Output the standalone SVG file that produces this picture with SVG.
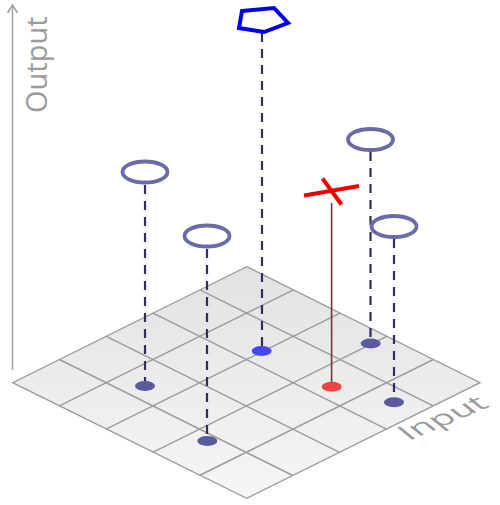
<svg xmlns="http://www.w3.org/2000/svg" width="500" height="505" viewBox="0 0 500 505">
  <defs>
    <linearGradient id="floor" x1="0" y1="266" x2="0" y2="499" gradientUnits="userSpaceOnUse">
      <stop offset="0" stop-color="#e2e2e2"/>
      <stop offset="1" stop-color="#f6f6f6"/>
    </linearGradient>
  </defs>
  <style>
    .grid { stroke: #9c9c9c; stroke-width: 1.4; fill: none; }
    .axis { stroke: #a0a0a0; stroke-width: 1.5; fill: none; }
    .label { font-family: "Open Sans", "DejaVu Sans", sans-serif; fill: #9b9b9b; }
    .drop { stroke: #2f2f5f; stroke-width: 2.2; stroke-dasharray: 9 7; fill: none; }
    .ring { stroke: #6a6aaa; stroke-width: 3.8; fill: none; }
    .dot { fill: #5a5a9e; }
  </style>

  <!-- input plane -->
  <g id="plane">
    <polygon points="246.7,266.7 480,382.7 246.7,498.3 12.7,382.7" fill="url(#floor)" stroke="#9c9c9c" stroke-width="1.4"/>
    <g class="grid">
      <line x1="199.9" y1="289.9" x2="433.2" y2="405.9"/>
      <line x1="153.1" y1="313.1" x2="386.4" y2="429.1"/>
      <line x1="106.3" y1="336.3" x2="339.6" y2="452.3"/>
      <line x1="59.5" y1="359.5" x2="292.8" y2="475.5"/>
      <line x1="293.4" y1="289.9" x2="59.4" y2="405.9"/>
      <line x1="340" y1="313.1" x2="106" y2="429.1"/>
      <line x1="386.7" y1="336.3" x2="152.7" y2="452.3"/>
      <line x1="433.4" y1="359.5" x2="199.4" y2="475.5"/>
    </g>
  </g>

  <!-- axes -->
  <g id="axis-output">
    <line class="axis" x1="12.5" y1="370" x2="12.5" y2="5.5"/>
    <path class="axis" d="M7.5,13 L12.5,5 L17.5,13"/>
    <text class="label" font-size="29" transform="translate(47,113) rotate(-90)">Output</text>
  </g>
  <g id="axis-input">
    <text class="label" font-size="30" transform="matrix(1.1,-0.47,0.7,0.56,409,441)">Input</text>
  </g>

  <!-- connectors: sample heights -->
  <g id="connectors">
    <line class="drop" x1="145" y1="185" x2="145" y2="386"/>
    <line class="drop" x1="207" y1="249" x2="207" y2="441"/>
    <line class="drop" x1="262" y1="33" x2="262" y2="351"/>
    <line class="drop" x1="370.5" y1="152" x2="370.5" y2="343.5"/>
    <line class="drop" x1="394" y1="239" x2="394" y2="402"/>
    <line x1="331.6" y1="203" x2="331.6" y2="387" stroke="#6b3a3a" stroke-width="1.6"/>
  </g>

  <!-- sample points on the plane -->
  <g id="p1"><ellipse class="dot" cx="145" cy="386" rx="10" ry="5"/></g>
  <g id="p2"><ellipse class="dot" cx="207.3" cy="441" rx="10" ry="5"/></g>
  <g id="p3"><ellipse cx="261.7" cy="351" rx="10" ry="5" fill="#4646f5"/></g>
  <g id="p4"><ellipse class="dot" cx="370.7" cy="343.5" rx="10" ry="5"/></g>
  <g id="p5"><ellipse class="dot" cx="394" cy="402.3" rx="10" ry="5"/></g>
  <g id="query"><ellipse cx="331.7" cy="386.7" rx="10" ry="5" fill="#ee4444"/></g>

  <!-- output values -->
  <g id="o1"><ellipse class="ring" cx="145" cy="172" rx="22.5" ry="10.5"/></g>
  <g id="o2"><ellipse class="ring" cx="207" cy="236" rx="22.5" ry="10.5"/></g>
  <g id="o3"><polygon points="242,11 274,8 288,23 264,32 239,28" fill="none" stroke="#0000ee" stroke-width="4" stroke-linejoin="miter"/></g>
  <g id="o4"><ellipse class="ring" cx="370.5" cy="139.5" rx="22.5" ry="10.5"/></g>
  <g id="o5"><ellipse class="ring" cx="394" cy="226.5" rx="22.5" ry="10.5"/></g>
  <g id="unknown">
    <line x1="304" y1="195.5" x2="359" y2="186" stroke="#ee0000" stroke-width="4"/>
    <line x1="322.5" y1="178.5" x2="341.5" y2="204.5" stroke="#ee0000" stroke-width="4"/>
  </g>
</svg>
